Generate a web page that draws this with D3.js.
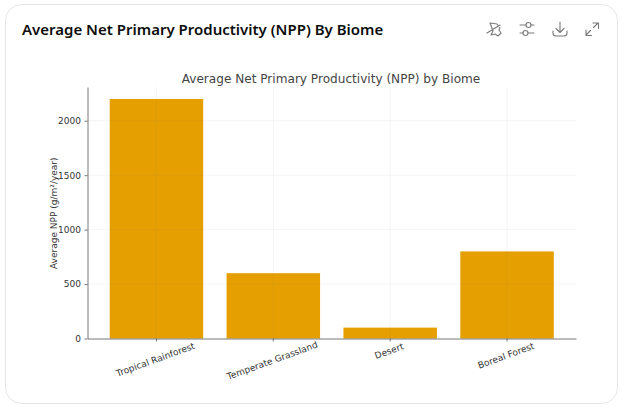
<!DOCTYPE html>
<html>
<head>
<meta charset="utf-8">
<script src="https://cdn.jsdelivr.net/npm/d3@7"></script>
<style>
    html, body { margin: 0; padding: 0; background: #fff; }
    svg { display: block; }
    .tick text { font-family: "DejaVu Sans", sans-serif; font-size: 9px; fill: #333; }
</style>
</head>
<body>
<svg></svg>
<script>
// Chart data
const biomes = ["Tropical Rainforest", "Temperate Grassland", "Desert", "Boreal Forest"];
const nppValues = [2200, 600, 100, 800];
const yTicks = [0, 500, 1000, 1500, 2000];

const cardTitle = "Average Net Primary Productivity (NPP) By Biome";
const chartTitle = "Average Net Primary Productivity (NPP) by Biome";
const yLabel = "Average NPP (g/m²/year)";

const width = 627;
const height = 410;

// Plot area
const plotLeft = 87.5, plotRight = 576, plotTop = 87, plotBottom = 338.5;

const svg = d3.select("svg")
    .attr("width", width)
    .attr("height", height);

// Card outline
svg.append("rect")
    .attr("x", 5.5)
    .attr("y", 4.5)
    .attr("width", 612)
    .attr("height", 399)
    .attr("rx", 16)
    .attr("fill", "#fff")
    .attr("stroke", "#e6e6e6");

svg.append("text")
    .attr("x", 22)
    .attr("y", 35)
    .attr("font-family", "'Noto Sans', sans-serif")
    .attr("font-size", 15)
    .attr("font-weight", 600)
    .attr("fill", "#0d0d0d")
    .text(cardTitle);

// Toolbar icons
const icons = svg.append("g")
    .attr("fill", "none")
    .attr("stroke", "#7a7a7a")
    .attr("stroke-width", 1.1)
    .attr("stroke-linecap", "round")
    .attr("stroke-linejoin", "round");

icons.append("path").attr("d", "M490 23 L497 24 L500 28 L499 30 L501 33 L498 36 L495 34 L491 35 L493 31 L490 23 M487 33 L500 25");
icons.append("path").attr("d", "M520 25 H526 M531 25 H534 M520 33 H523 M528 33 H534");
icons.append("circle").attr("cx", 528.5).attr("cy", 25).attr("r", 2.5);
icons.append("circle").attr("cx", 525.5).attr("cy", 33).attr("r", 2.5);
icons.append("path").attr("d", "M560 22 V32 M556 28.5 L560 32.5 L564 28.5 M553 31 V33 Q553 36 556 36 H564 Q567 36 567 33 V31");
icons.append("path").attr("d", "M586 35 L590.5 30.5 M586 30 V35.5 H591.5 M593.5 27.5 L598 23 M593 23 H598.5 V28.5");

// Scales
const x = d3.scaleBand()
    .domain(biomes)
    .range([plotLeft, plotRight])
    .paddingInner(0.2)
    .paddingOuter(0.19);

const y = d3.scaleLinear()
    .domain([0, 2310])
    .range([plotBottom, plotTop]);

// Bars
svg.append("g")
    .selectAll("rect")
    .data(biomes)
    .enter()
    .append("rect")
    .attr("x", d => x(d))
    .attr("y", (d, i) => y(nppValues[i]))
    .attr("width", x.bandwidth())
    .attr("height", (d, i) => plotBottom - y(nppValues[i]))
    .attr("fill", "#E69F00");

// Gridlines run faintly over the bars
const grid = svg.append("g")
    .attr("stroke", "#808080")
    .attr("stroke-opacity", 0.1)
    .attr("stroke-width", 0.8);
grid.selectAll(".h")
    .data(yTicks.slice(1))
    .enter()
    .append("line")
    .attr("x1", plotLeft)
    .attr("x2", plotRight)
    .attr("y1", d => y(d))
    .attr("y2", d => y(d));
grid.selectAll(".v")
    .data(biomes)
    .enter()
    .append("line")
    .attr("x1", d => x(d) + x.bandwidth() / 2)
    .attr("x2", d => x(d) + x.bandwidth() / 2)
    .attr("y1", plotTop)
    .attr("y2", plotBottom);

// Axes
const yAxis = svg.append("g")
    .attr("transform", `translate(${plotLeft},0)`)
    .call(d3.axisLeft(y).tickValues(yTicks).tickFormat(d3.format("d")).tickSize(3).tickSizeOuter(0).tickPadding(3.5));
yAxis.selectAll("path, line").attr("stroke", "#555").attr("stroke-width", 0.8);

const xAxis = svg.append("g")
    .attr("transform", `translate(0,${plotBottom})`)
    .call(d3.axisBottom(x).tickSize(3).tickSizeOuter(0));
xAxis.selectAll("path, line").attr("stroke", "#555").attr("stroke-width", 0.8);
xAxis.selectAll("text")
    .attr("text-anchor", "middle")
    .attr("dy", 0)
    .attr("y", 0)
    .attr("transform", (d, i) => `translate(0,${[24, 25, 15.5, 20][i]}) rotate(-20)`);

// Titles
svg.append("text")
    .attr("x", 331)
    .attr("y", 83)
    .attr("text-anchor", "middle")
    .attr("font-family", "'DejaVu Sans', sans-serif")
    .attr("font-size", 12.1)
    .attr("fill", "#444")
    .text(chartTitle);

svg.append("text")
    .attr("transform", `translate(57,${(plotTop + plotBottom) / 2 + 0.5}) rotate(-90)`)
    .attr("text-anchor", "middle")
    .attr("font-family", "'DejaVu Sans', sans-serif")
    .attr("font-size", 9)
    .attr("fill", "#333")
    .text(yLabel);
</script>
</body>
</html>
